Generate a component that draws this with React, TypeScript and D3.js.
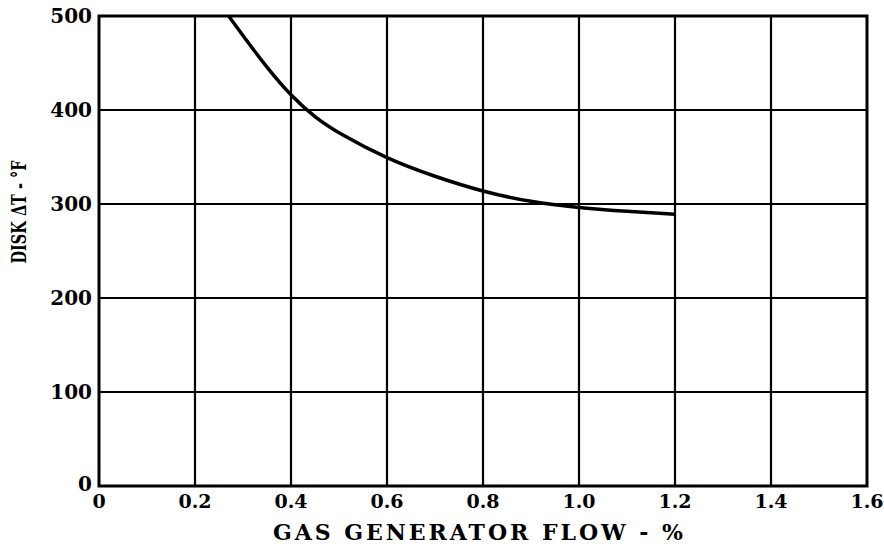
import React from "react";
import * as d3 from "d3";

const flowX = [0.27, 0.3, 0.35, 0.4, 0.45, 0.5, 0.6, 0.7, 0.8, 0.9, 1.0, 1.1, 1.2];
const diskDT = [500, 479, 445, 415, 392, 375, 348, 329, 313, 302, 296, 292, 289];
const xTicks = [0, 0.2, 0.4, 0.6, 0.8, 1.0, 1.2, 1.4, 1.6];
const xTickLabels = ["0", "0.2", "0.4", "0.6", "0.8", "1.0", "1.2", "1.4", "1.6"];
const yTicks = [0, 100, 200, 300, 400, 500];
const yTickLabels = ["0", "100", "200", "300", "400", "500"];

const W = 884;
const H = 554;
const L = 99, R = 867, T = 16, B = 486;
const FONT = "'DejaVu Serif', 'Liberation Serif', serif";

export default function App() {
  const x = d3.scaleLinear().domain([0, 1.6]).range([L, R]);
  const y = d3.scaleLinear().domain([0, 500]).range([B, T]);
  const pts = flowX.map((v, i) => [v, diskDT[i]] as [number, number]);
  const line = d3
    .line<[number, number]>()
    .x((d) => x(d[0]))
    .y((d) => y(d[1]))
    .curve(d3.curveBasis);

  return (
    <svg
      width={W}
      height={H}
      style={{ position: "absolute", left: 0, top: 0, background: "#fff" }}
    >
      <rect x={0} y={0} width={W} height={H} fill="#fff" />
      {xTicks.map((t, i) =>
        i > 0 && i < xTicks.length - 1 ? (
          <line key={"gx" + i} x1={x(t)} x2={x(t)} y1={T} y2={B} stroke="#000" strokeWidth={2.2} />
        ) : null
      )}
      {yTicks.map((t, i) =>
        i > 0 && i < yTicks.length - 1 ? (
          <line key={"gy" + i} x1={L} x2={R} y1={y(t)} y2={y(t)} stroke="#000" strokeWidth={2} />
        ) : null
      )}
      <rect x={L} y={T} width={R - L} height={B - T} fill="none" stroke="#000" strokeWidth={3} />
      <path d={line(pts) || ""} fill="none" stroke="#000" strokeWidth={3.5} />
      {xTicks.map((t, i) => (
        <text
          key={"xl" + i}
          x={x(t)}
          y={508}
          textAnchor="middle"
          fontFamily={FONT}
          fontWeight="bold"
          fontSize={19}
          fill="#000"
        >
          {xTickLabels[i]}
        </text>
      ))}
      {yTicks.map((t, i) => (
        <text
          key={"yl" + i}
          x={92}
          y={y(t) + (i === 0 ? 5 : 7)}
          textAnchor="end"
          fontFamily={FONT}
          fontWeight="bold"
          fontSize={20}
          fill="#000"
        >
          {yTickLabels[i]}
        </text>
      ))}
      <text
        x={478}
        y={540}
        textAnchor="middle"
        fontFamily={FONT}
        fontWeight="bold"
        fontSize={22}
        textLength={410}
        lengthAdjust="spacing"
        fill="#000"
      >
        GAS GENERATOR FLOW - %
      </text>
      <text
        transform={`translate(26,212) rotate(-90)`}
        textAnchor="middle"
        fontFamily={FONT}
        fontWeight="bold"
        fontSize={20}
        textLength={103}
        lengthAdjust="spacingAndGlyphs"
        fill="#000"
      >
        DISK ΔT - °F
      </text>
    </svg>
  );
}
